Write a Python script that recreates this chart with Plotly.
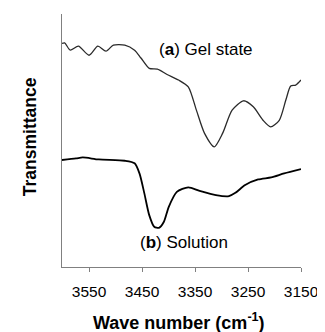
import plotly.graph_objects as go

# Gel state (a)
gel_wn = [3601, 3596, 3585.5, 3570, 3550, 3533.4, 3518, 3504, 3482.5, 3464, 3452, 3436.4,
          3421, 3402.7, 3381, 3362.7, 3347.4, 3332, 3313.7, 3298, 3280, 3258.5, 3240,
          3221.7, 3207.5, 3191, 3178.6, 3169.4, 3160, 3150]
gel_t = [88.4, 88.6, 85.7, 87.3, 83.7, 87.3, 85.3, 87.7, 87.7, 85.7, 82.6, 78.5,
         78.2, 76.1, 73.9, 71.2, 62.0, 52.8, 47.5, 52.8, 62.0, 65.7, 63.3,
         58.0, 55.4, 58.0, 66.0, 71.5, 71.9, 73.9]

# Solution (b)
sol_wn = [3601, 3574.5, 3562, 3531.6, 3482.4, 3464, 3454.8, 3445.6, 3436.4, 3427, 3418,
          3408.7, 3399.5, 3384.3, 3362.7, 3341.3, 3310.6, 3286, 3273.8, 3255.4, 3230.9,
          3206.2, 3181.7, 3150]
sol_t = [42.3, 42.9, 43.3, 42.5, 42.0, 41.0, 37.0, 29.1, 20.5, 15.9, 15.5,
         17.9, 23.8, 29.7, 31.5, 30.1, 28.4, 28.0, 29.3, 32.4, 34.6,
         35.4, 37.0, 38.7]

tick_vals = [3550, 3450, 3350, 3250, 3150]
tick_text = ["3550", "3450", "3350", "3250", "3150"]

FONT = "Liberation Sans, Arial, sans-serif"

fig = go.Figure()
fig.add_trace(go.Scatter(x=gel_wn, y=gel_t, mode="lines",
                         line=dict(color="#2a2a2a", width=1.3, shape="spline", smoothing=0.7),
                         name="Gel state", showlegend=False))
fig.add_trace(go.Scatter(x=sol_wn, y=sol_t, mode="lines",
                         line=dict(color="#000000", width=1.8, shape="spline", smoothing=0.7),
                         name="Solution", showlegend=False))

fig.update_layout(
    width=317, height=324,
    margin=dict(l=54, r=18, t=6, b=65),
    paper_bgcolor="white", plot_bgcolor="white",
    font=dict(family=FONT, color="#000000", size=15),
    xaxis=dict(range=[3601, 3150], tickvals=tick_vals, ticktext=tick_text,
               ticks="outside", ticklen=4, tickcolor="#808080", tickwidth=1,
               ticklabelstandoff=6,
               showline=True, linecolor="#808080", linewidth=1, showgrid=False, zeroline=False,
               tickfont=dict(size=15.5, family=FONT)),
    yaxis=dict(range=[0, 100], showticklabels=False, ticks="",
               showline=True, linecolor="#808080", linewidth=1, showgrid=False, zeroline=False),
    annotations=[
        dict(text="(<b>a</b>) Gel state", x=3330, y=85.9, xref="x", yref="y", showarrow=False,
             font=dict(size=17, family=FONT)),
        dict(text="(<b>b</b>) Solution", x=3371, y=9.7, xref="x", yref="y", showarrow=False,
             font=dict(size=17, family=FONT)),
        dict(text="<b>Wave number (cm<sup>-1</sup>)</b>", x=0.49, y=-0.217, xref="paper", yref="paper",
             xanchor="center", yanchor="middle", showarrow=False, font=dict(size=18, family=FONT)),
        dict(text="<b>Transmittance</b>", x=-0.133, y=0.514, xref="paper", yref="paper",
             xanchor="center", yanchor="middle", textangle=-90, showarrow=False,
             font=dict(size=17.5, family=FONT)),
    ],
)

fig.write_html("out.html")
